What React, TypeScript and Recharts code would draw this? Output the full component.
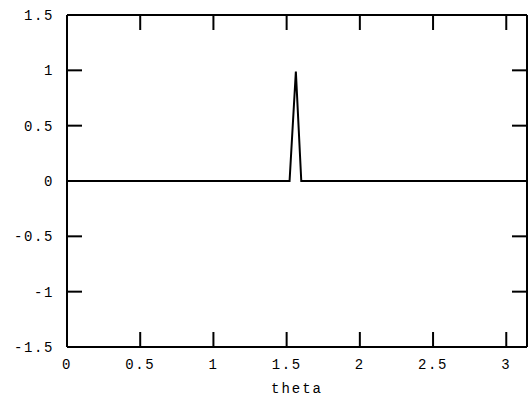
import { LineChart, Line, XAxis, YAxis } from 'recharts';

const THETA = [0, 1.52, 1.563, 1.6, Math.PI];
const VALUES = [0, 0, 0.99, 0, 0];
const X_TICKS = [0, 0.5, 1, 1.5, 2, 2.5, 3];
const Y_TICKS = [-1.5, -1, -0.5, 0, 0.5, 1, 1.5];

const data = THETA.map((t, i) => ({ theta: t, value: VALUES[i] }));

const FONT = '"Liberation Mono", monospace';
const tickStyle = { fill: '#000', fontSize: 14, fontFamily: FONT, letterSpacing: 1.6 };
const axisLine = { stroke: '#000', strokeWidth: 2 };
const tickLine = { stroke: '#000', strokeWidth: 2 };
const noLabel = () => <g />;

export default function App() {
  return (
    <div style={{ position: 'absolute', left: 0, top: 0, width: 528, height: 402, overflow: 'hidden', background: '#fff' }}>
      <LineChart width={540} height={402} data={data} margin={{ top: 14, right: 12, bottom: 0, left: 0 }}>
        <XAxis
          xAxisId="bottom"
          dataKey="theta"
          type="number"
          domain={[0, Math.PI]}
          ticks={X_TICKS}
          allowDataOverflow
          height={55}
          tickSize={-15}
          tickMargin={27}
          tick={tickStyle}
          axisLine={axisLine}
          tickLine={tickLine}
          label={{ value: 'theta', position: 'insideBottom', offset: 9, fill: '#000', fontSize: 14, fontFamily: FONT, letterSpacing: 2 }}
        />
        <XAxis
          xAxisId="top"
          orientation="top"
          dataKey="theta"
          type="number"
          domain={[0, Math.PI]}
          ticks={X_TICKS}
          allowDataOverflow
          height={1}
          tickSize={-15}
          tick={noLabel}
          axisLine={axisLine}
          tickLine={tickLine}
        />
        <YAxis
          yAxisId="left"
          dataKey="value"
          type="number"
          domain={[-1.5, 1.5]}
          ticks={Y_TICKS}
          width={67}
          tickSize={-15}
          tickMargin={28}
          tick={tickStyle}
          axisLine={axisLine}
          tickLine={tickLine}
        />
        <YAxis
          yAxisId="right"
          orientation="right"
          dataKey="value"
          type="number"
          domain={[-1.5, 1.5]}
          ticks={Y_TICKS}
          allowDataOverflow
          width={1}
          tickSize={-15}
          tick={noLabel}
          axisLine={axisLine}
          tickLine={tickLine}
        />
        <Line
          xAxisId="bottom"
          yAxisId="left"
          dataKey="value"
          type="linear"
          stroke="#000"
          strokeWidth={2}
          dot={false}
          isAnimationActive={false}
        />
      </LineChart>
    </div>
  );
}
